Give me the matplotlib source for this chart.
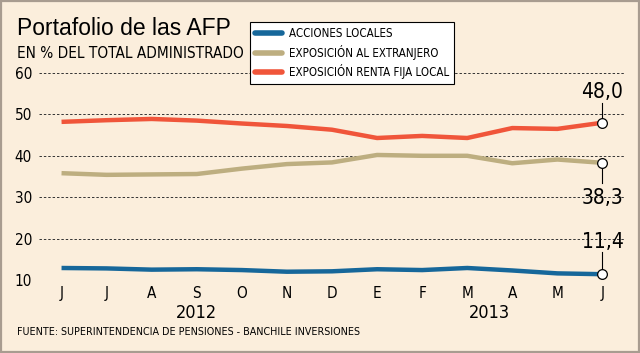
import matplotlib
matplotlib.use('Agg')
import matplotlib.pyplot as plt
from matplotlib.patches import Rectangle
from matplotlib import font_manager

# data (June 2012 - June 2013)
months = ['J', 'J', 'A', 'S', 'O', 'N', 'D', 'E', 'F', 'M', 'A', 'M', 'J']
acciones_locales = [12.9, 12.8, 12.5, 12.6, 12.4, 12.0, 12.1, 12.6, 12.4, 12.9, 12.3, 11.6, 11.4]
exposicion_extranjero = [35.8, 35.4, 35.5, 35.6, 36.9, 38.0, 38.4, 40.2, 40.0, 40.0, 38.2, 39.1, 38.3]
renta_fija_local = [48.2, 48.6, 48.9, 48.5, 47.8, 47.2, 46.3, 44.3, 44.8, 44.3, 46.7, 46.5, 48.0]
years = ['2012', '2013']
yticks = [10, 20, 30, 40, 50, 60]

bg = '#fbeedc'
blue = '#16679a'
tan = '#bdae80'
red = '#f0553a'

# look for a condensed face, fall back to plain DejaVu Sans
cond_file = None
for f in font_manager.findSystemFonts():
    n = f.lower()
    if 'dejavusanscondensed.ttf' in n or 'liberationsansnarrow-regular' in n:
        cond_file = f
        break
if cond_file:
    def cfont(size):
        return font_manager.FontProperties(fname=cond_file, size=size)
else:
    def cfont(size):
        return font_manager.FontProperties(family='DejaVu Sans', size=size * 0.9)

fig = plt.figure(figsize=(6.4, 3.53), dpi=100)
fig.patch.set_facecolor(bg)
fig.patches.append(Rectangle((0.002, 0.003), 0.996, 0.994, transform=fig.transFigure,
                             fill=False, edgecolor='#a89c90', linewidth=1.6))

ax = fig.add_axes([39 / 640, 73 / 353, 586 / 640, 207 / 353])
ax.set_facecolor(bg)
x = list(range(len(months)))

ax.plot(x, acciones_locales, color=blue, lw=3.2, solid_capstyle='butt', label='ACCIONES LOCALES', zorder=3)
ax.plot(x, exposicion_extranjero, color=tan, lw=3.2, solid_capstyle='butt', label='EXPOSICIÓN AL EXTRANJERO', zorder=3)
ax.plot(x, renta_fija_local, color=red, lw=3.2, solid_capstyle='butt', label='EXPOSICIÓN RENTA FIJA LOCAL', zorder=3)

ax.set_xlim(-0.5, 12.5)
ax.set_ylim(10, 60)
for v in yticks:
    ax.axhline(v, color='#333333', lw=0.7, ls=(0, (2.5, 2)), zorder=1)
for s in ax.spines.values():
    s.set_visible(False)
ax.set_yticks(yticks)
ax.set_yticklabels([str(v) for v in yticks], fontproperties=cfont(11))
ax.set_xticks(x)
ax.set_xticklabels(months, fontproperties=cfont(11))
ax.tick_params(length=0, pad=4)
ax.tick_params(axis='y', pad=5)

# year labels under the months
ax.text(3, -0.115, years[0], transform=ax.get_xaxis_transform(), ha='center', va='top',
        fontproperties=cfont(13))
ax.text(9.5, -0.115, years[1], transform=ax.get_xaxis_transform(), ha='center', va='top',
        fontproperties=cfont(13))

# end-point callouts: (series, leader line offset, label offset)
last = len(months) - 1
for series, line_off, text_off in [(renta_fija_local, 4.8, 7.4),
                                   (exposicion_extranjero, -4.9, -8.5),
                                   (acciones_locales, 5.4, 7.8)]:
    val = series[-1]
    ax.plot([last, last], [val, val + line_off], color='black', lw=0.8, zorder=4, clip_on=False)
    ax.plot(last, val, 'o', ms=7, mfc='white', mec='black', mew=0.9, zorder=5, clip_on=False)
    lbl = ('%.1f' % val).replace('.', ',')
    ax.text(last, val + text_off, lbl, ha='center', va='center', fontproperties=cfont(15), zorder=6)

leg = ax.legend(loc='upper left', bbox_to_anchor=(250 / 640, 1 - 22 / 353), bbox_transform=fig.transFigure,
                frameon=True, fancybox=False, prop=cfont(8.3),
                handlelength=2.3, handletextpad=0.6, labelspacing=0.38, borderpad=0.45,
                borderaxespad=0)
leg.get_frame().set_edgecolor('black')
leg.get_frame().set_linewidth(0.8)
leg.get_frame().set_facecolor('white')
leg.get_frame().set_alpha(1)
leg.set_zorder(10)
for h in leg.get_lines():
    h.set_linewidth(4)
    h.set_solid_capstyle('round')

fig.text(17 / 640, 1 - 17 / 353, 'Portafolio de las AFP', family=['Liberation Sans', 'DejaVu Sans'],
         fontsize=16.5, va='top', ha='left')
fig.text(17 / 640, 1 - 46 / 353, 'EN % DEL TOTAL ADMINISTRADO', fontproperties=cfont(11),
         va='top', ha='left')
fig.text(17 / 640, 1 - 327 / 353, 'FUENTE: SUPERINTENDENCIA DE PENSIONES - BANCHILE INVERSIONES',
         fontproperties=cfont(7.7), va='top', ha='left')

fig.savefig('out.png', dpi=100, facecolor=bg)
